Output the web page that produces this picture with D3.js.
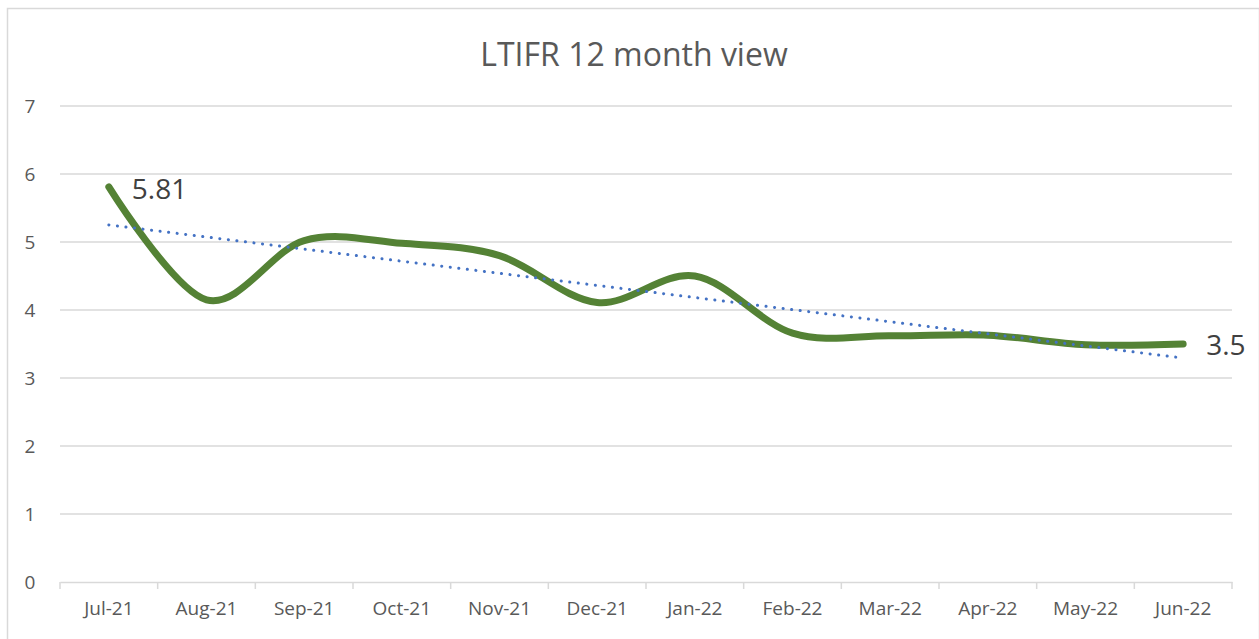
<!DOCTYPE html>
<html>
<head>
<meta charset="utf-8">
<script src="https://cdn.jsdelivr.net/npm/d3@7"></script>
<style>
  body { margin: 0; background: #fff; }
  text { font-family: "Open Sans", "Liberation Sans", sans-serif; }
</style>
</head>
<body>
<div id="graph"></div>
<script>
// chart data
var months = ["Jul-21", "Aug-21", "Sep-21", "Oct-21", "Nov-21", "Dec-21",
              "Jan-22", "Feb-22", "Mar-22", "Apr-22", "May-22", "Jun-22"];
var ltifr = [5.81, 4.15, 5.02, 4.98, 4.8, 4.11, 4.5, 3.66, 3.62, 3.63, 3.49, 3.5];
var yTicks = [0, 1, 2, 3, 4, 5, 6, 7];
var chartTitle = "LTIFR 12 month view";

var W = 1259, H = 639;
var margin = {top: 106, right: 27, bottom: 57, left: 60},
    width = W - margin.left - margin.right,
    height = H - margin.top - margin.bottom;

var svg = d3.select("#graph").append("svg")
    .attr("width", W)
    .attr("height", H);

// outer chart border
svg.append("rect")
    .attr("x", 7.5).attr("y", 8.5)
    .attr("width", W - 7).attr("height", H)
    .attr("fill", "#fff")
    .attr("stroke", "#d9d9d9")
    .attr("stroke-width", 1.5);

// title
svg.append("text")
    .attr("x", 634).attr("y", 66)
    .attr("text-anchor", "middle")
    .attr("font-size", 32)
    .attr("fill", "#595959")
    .text(chartTitle);

var g = svg.append("g")
    .attr("transform", "translate(" + margin.left + "," + margin.top + ")");

// scales
var x = d3.scaleBand().domain(months).range([0, width]);
var y = d3.scaleLinear().domain([0, 7]).range([height, 0]);
var cx = function(i){ return x(months[i]) + x.bandwidth() / 2; };

// gridlines
g.selectAll(".grid")
    .data(yTicks.filter(function(d){ return d > 0; }))
  .enter().append("line")
    .attr("x1", 0).attr("x2", width)
    .attr("y1", function(d){ return y(d); })
    .attr("y2", function(d){ return y(d); })
    .attr("stroke", "#d9d9d9")
    .attr("stroke-width", 1.5);

// y axis labels
var yAxis = g.append("g")
    .call(d3.axisLeft(y).tickValues(yTicks).tickFormat(d3.format("d"))
      .tickSize(0).tickPadding(30));
yAxis.select(".domain").remove();
yAxis.selectAll("text")
    .attr("font-size", 19)
    .attr("fill", "#595959")
    .attr("text-anchor", "middle")
    .attr("font-family", "\"Open Sans\", sans-serif");

// x axis with tick marks at band edges
var xAxis = g.append("g")
    .attr("transform", "translate(0," + height + ")")
    .call(d3.axisBottom(x).tickSize(0).tickPadding(20));
xAxis.select(".domain")
    .attr("stroke", "#d9d9d9")
    .attr("stroke-width", 1.5);
xAxis.selectAll("text")
    .attr("font-size", 19)
    .attr("fill", "#595959")
    .attr("font-family", "\"Open Sans\", sans-serif");
xAxis.selectAll(".edge")
    .data(months.concat(["end"]))
  .enter().append("line")
    .attr("class", "edge")
    .attr("x1", function(d, i){ return i * x.bandwidth(); })
    .attr("x2", function(d, i){ return i * x.bandwidth(); })
    .attr("y1", 0).attr("y2", 7)
    .attr("stroke", "#d9d9d9")
    .attr("stroke-width", 1.5);

// smoothed series line
var line = d3.line()
    .x(function(d, i){ return cx(i); })
    .y(function(d){ return y(d); })
    .curve(d3.curveCatmullRom.alpha(0));

g.append("path")
    .datum(ltifr)
    .attr("d", line)
    .attr("fill", "none")
    .attr("stroke", "#548235")
    .attr("stroke-width", 7)
    .attr("stroke-linecap", "round");

// linear trendline (least squares)
var n = ltifr.length,
    mx = d3.mean(ltifr, function(d, i){ return i; }),
    my = d3.mean(ltifr),
    sxy = d3.sum(ltifr, function(d, i){ return (i - mx) * (d - my); }),
    sxx = d3.sum(ltifr, function(d, i){ return (i - mx) * (i - mx); }),
    slope = sxy / sxx,
    icpt = my - slope * mx;

g.append("line")
    .attr("x1", cx(0)).attr("y1", y(icpt))
    .attr("x2", cx(n - 1)).attr("y2", y(icpt + slope * (n - 1)))
    .attr("stroke", "#4472c4")
    .attr("stroke-width", 3)
    .attr("stroke-linecap", "round")
    .attr("stroke-dasharray", "0.1 8.5");

// data labels on first and last points
g.append("text")
    .attr("x", cx(0) + 23).attr("y", y(ltifr[0]) + 12)
    .attr("font-size", 28)
    .attr("fill", "#404040")
    .text(ltifr[0]);

g.append("text")
    .attr("x", cx(n - 1) + 23).attr("y", y(ltifr[n - 1]) + 11)
    .attr("font-size", 28)
    .attr("fill", "#404040")
    .text(ltifr[n - 1]);
</script>
</body>
</html>
